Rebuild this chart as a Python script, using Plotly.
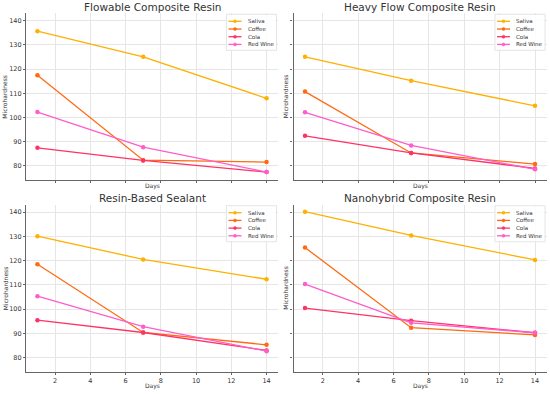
import plotly.graph_objects as go
from plotly.subplots import make_subplots

days = [1, 7, 14]
series_names = ["Saliva", "Coffee", "Cola", "Red Wine"]
colors = ["#FFB000", "#FF6A10", "#FF3366", "#FF5CCC"]

panel_titles = ["Flowable Composite Resin", "Heavy Flow Composite Resin",
                "Resin-Based Sealant", "Nanohybrid Composite Resin"]

flowable = {"Saliva": [135.7, 125.1, 107.9], "Coffee": [117.5, 82.3, 81.5],
            "Cola": [87.4, 82.2, 77.4], "Red Wine": [102.2, 87.7, 77.4]}
heavy_flow = {"Saliva": [125.1, 115.2, 104.8], "Coffee": [110.7, 85.3, 80.7],
              "Cola": [92.4, 85.3, 78.9], "Red Wine": [102.1, 88.4, 78.5]}
sealant = {"Saliva": [130.1, 120.5, 112.3], "Coffee": [118.5, 90.3, 85.2],
           "Cola": [95.4, 90.3, 82.9], "Red Wine": [105.3, 92.7, 82.6]}
nanohybrid = {"Saliva": [140.2, 130.4, 120.3], "Coffee": [125.4, 92.3, 89.3],
              "Cola": [100.4, 95.2, 90.2], "Red Wine": [110.3, 94.3, 90.2]}
panels = [flowable, heavy_flow, sealant, nanohybrid]

x_ticks = [2, 4, 6, 8, 10, 12, 14]
y_ticks = [80, 90, 100, 110, 120, 130, 140]

W, H = 550, 394
def px(x):
    return x / W
def py(y):
    return 1 - y / H

# panel geometry in pixels: (left, right, top, bottom)
geo = [(26, 278, 13.3, 180), (293.5, 546.5, 13.3, 180),
       (26, 278, 204.7, 371.7), (293.5, 546.5, 204.7, 371.7)]

fig = make_subplots(rows=2, cols=2)

positions = [(1, 1), (1, 2), (2, 1), (2, 2)]
annotations = []
shapes = []
font_fam = "DejaVu Sans"
for i, (data, (r, c)) in enumerate(zip(panels, positions)):
    for name, col in zip(series_names, colors):
        fig.add_trace(go.Scatter(x=days, y=data[name], mode="lines+markers", name=name,
                                 line=dict(color=col, width=1.3),
                                 marker=dict(color=col, size=4.5),
                                 showlegend=False), row=r, col=c)
    L, R, T, B = geo[i]
    ax = "" if i == 0 else str(i + 1)
    fig.layout["xaxis" + ax].update(
        domain=[px(L), px(R)], range=[0.35, 14.65], tickvals=x_ticks,
        showticklabels=(r == 2), showgrid=True, gridcolor="#e6e6e6", gridwidth=0.8,
        zeroline=False, showline=True, linecolor="#666", linewidth=1.2,
        ticks="outside", ticklen=2, tickcolor="#666", tickwidth=0.8,
        tickfont=dict(family=font_fam, size=6.5, color="#333"))
    fig.layout["yaxis" + ax].update(
        domain=[py(B), py(T)], range=[74.1, 143.1], tickvals=y_ticks,
        showticklabels=(c == 1), showgrid=True, gridcolor="#e6e6e6", gridwidth=0.8,
        zeroline=False, showline=True, linecolor="#666", linewidth=1.2,
        ticks="outside", ticklen=2, tickcolor="#666", tickwidth=0.8,
        tickfont=dict(family=font_fam, size=6.5, color="#333"))
    # title
    annotations.append(dict(text=panel_titles[i], x=px((L + R) / 2), y=py(T - 6.5),
                            xref="paper", yref="paper", showarrow=False,
                            xanchor="center", yanchor="middle",
                            font=dict(family=font_fam, size=10.5, color="#333")))
    # axis labels
    annotations.append(dict(text="Days", x=px((L + R) / 2), y=py(B + (6 if r == 1 else 14)),
                            xref="paper", yref="paper", showarrow=False,
                            xanchor="center", yanchor="middle",
                            font=dict(family=font_fam, size=6, color="#333")))
    annotations.append(dict(text="Microhardness", x=px(L - (21 if c == 1 else 8)), y=py((T + B) / 2),
                            xref="paper", yref="paper", showarrow=False, textangle=-90,
                            xanchor="center", yanchor="middle",
                            font=dict(family=font_fam, size=6, color="#333")))
    # custom legend
    bx1 = R - 1.5
    bx0 = bx1 - 50
    by0 = T + 1
    by1 = by0 + 36
    shapes.append(dict(type="rect", xref="paper", yref="paper",
                       x0=px(bx0), x1=px(bx1), y0=py(by1), y1=py(by0),
                       line=dict(color="#dddddd", width=0.8), fillcolor="rgba(255,255,255,0.85)"))
    for k, (name, col) in enumerate(zip(series_names, colors)):
        yy = by0 + 7 + k * 7.7
        shapes.append(dict(type="line", xref="paper", yref="paper",
                           x0=px(bx0 + 2), x1=px(bx0 + 15), y0=py(yy), y1=py(yy),
                           line=dict(color=col, width=1.3)))
        cx = bx0 + 8.5
        shapes.append(dict(type="circle", xref="paper", yref="paper",
                           x0=px(cx - 1.5), x1=px(cx + 1.5), y0=py(yy + 1.5), y1=py(yy - 1.5),
                           line=dict(color=col, width=0.5), fillcolor=col))
        annotations.append(dict(text=name, x=px(bx0 + 19), y=py(yy),
                                xref="paper", yref="paper", showarrow=False,
                                xanchor="left", yanchor="middle",
                                font=dict(family=font_fam, size=5.5, color="#333")))

fig.update_layout(width=W, height=H, margin=dict(l=0, r=0, t=0, b=0),
                  paper_bgcolor="white", plot_bgcolor="white",
                  annotations=annotations, shapes=shapes, showlegend=False)

fig.write_html("out.html", config={"displayModeBar": False},
               post_script="document.body.style.margin='0';document.body.style.padding='0';"
                           "document.body.style.overflow='hidden';")
